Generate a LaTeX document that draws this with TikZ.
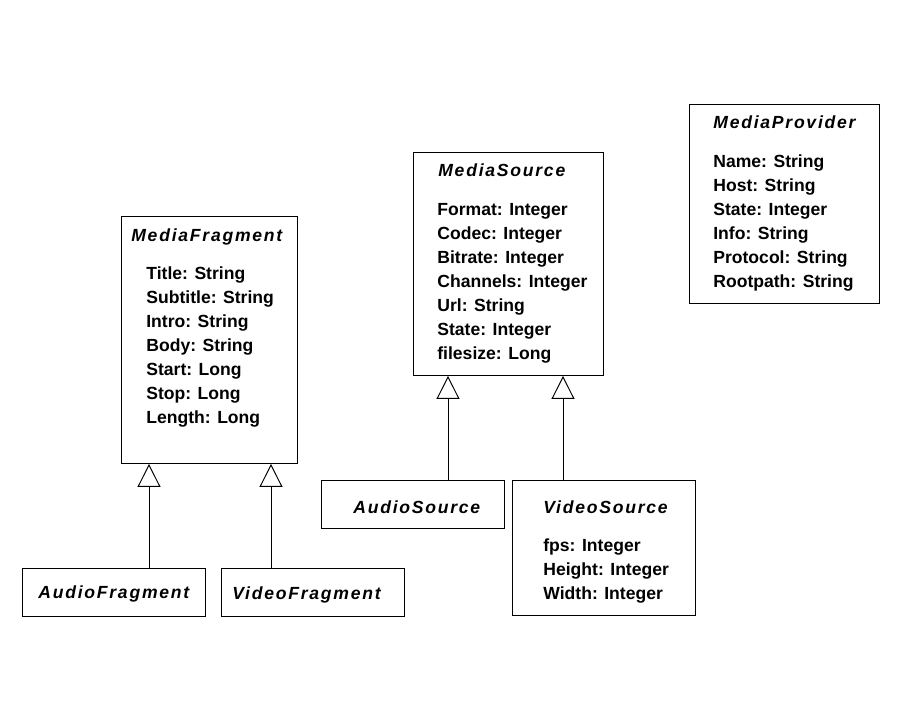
\documentclass[tikz,border=0pt]{standalone}
\usepackage{fontspec}
\setmainfont{Liberation Sans}
\newfontfamily\titlefont{Liberation Sans}[LetterSpace=10]
\usetikzlibrary{arrows.meta}
\tikzset{
  classbox/.style={draw, line width=0.55pt, inner sep=0pt, outer sep=0pt, anchor=north west},
  clsname/.style={anchor=base west, inner sep=0pt, font=\titlefont\fontsize{10}{12}\selectfont\bfseries\itshape},
  attr/.style={anchor=base west, inner sep=0pt, font=\fontsize{10}{12}\selectfont\bfseries},
  isa/.style={line width=0.55pt, -{Triangle[open,length=0.46cm,width=0.46cm]}}
}
\begin{document}
\begin{tikzpicture}[x=0.02cm, y=-0.02cm]
    \useasboundingbox (0,0) rectangle (920,720);
    % class boxes
    \node[classbox, minimum width=3.54cm, minimum height=4.96cm] (frag) at (121,216) {};
    \node[classbox, minimum width=3.68cm, minimum height=0.96cm] (afrag) at (22,568) {};
    \node[classbox, minimum width=3.68cm, minimum height=0.96cm] (vfrag) at (221,568) {};
    \node[classbox, minimum width=3.82cm, minimum height=4.48cm] (src) at (413,152) {};
    \node[classbox, minimum width=3.68cm, minimum height=0.96cm] (asrc) at (321,480) {};
    \node[classbox, minimum width=3.68cm, minimum height=2.72cm] (vsrc) at (512,480) {};
    \node[classbox, minimum width=3.82cm, minimum height=4.00cm] (prov) at (689,104) {};
    % class names
    \node[clsname] (frag-name) at (131,241) {MediaFragment};
    \node[clsname] (afrag-name) at (38,598) {AudioFragment};
    \node[clsname] (vfrag-name) at (232,599) {VideoFragment};
    \node[clsname] (src-name) at (438,176) {MediaSource};
    \node[clsname] (asrc-name) at (353,513) {AudioSource};
    \node[clsname] (vsrc-name) at (543,513) {VideoSource};
    \node[clsname] (prov-name) at (713,128) {MediaProvider};
    % attributes
    \foreach \txt [count=\i] in {Title: String, Subtitle: String, Intro: String, Body: String, Start: Long, Stop: Long, Length: Long}{
      \node[attr] (frag-\i) at (146,255+24*\i) {\txt};
    }
    \foreach \txt [count=\i] in {Format: Integer, Codec: Integer, Bitrate: Integer, Channels: Integer, Url: String, State: Integer, filesize: Long}{
      \node[attr] (src-\i) at (437,191+24*\i) {\txt};
    }
    \foreach \txt [count=\i] in {fps: Integer, Height: Integer, Width: Integer}{
      \node[attr] (vsrc-\i) at (543,527+24*\i) {\txt};
    }
    \foreach \txt [count=\i] in {Name: String, Host: String, State: Integer, Info: String, Protocol: String, Rootpath: String}{
      \node[attr] (prov-\i) at (713,143+24*\i) {\txt};
    }
    % generalisation
    \draw[isa] (afrag.north -| 149,0) -- (frag.south -| 149,0);
    \draw[isa] (vfrag.north -| 271,0) -- (frag.south -| 271,0);
    \draw[isa] (asrc.north -| 448,0) -- (src.south -| 448,0);
    \draw[isa] (vsrc.north -| 563,0) -- (src.south -| 563,0);
\end{tikzpicture}
\end{document}
